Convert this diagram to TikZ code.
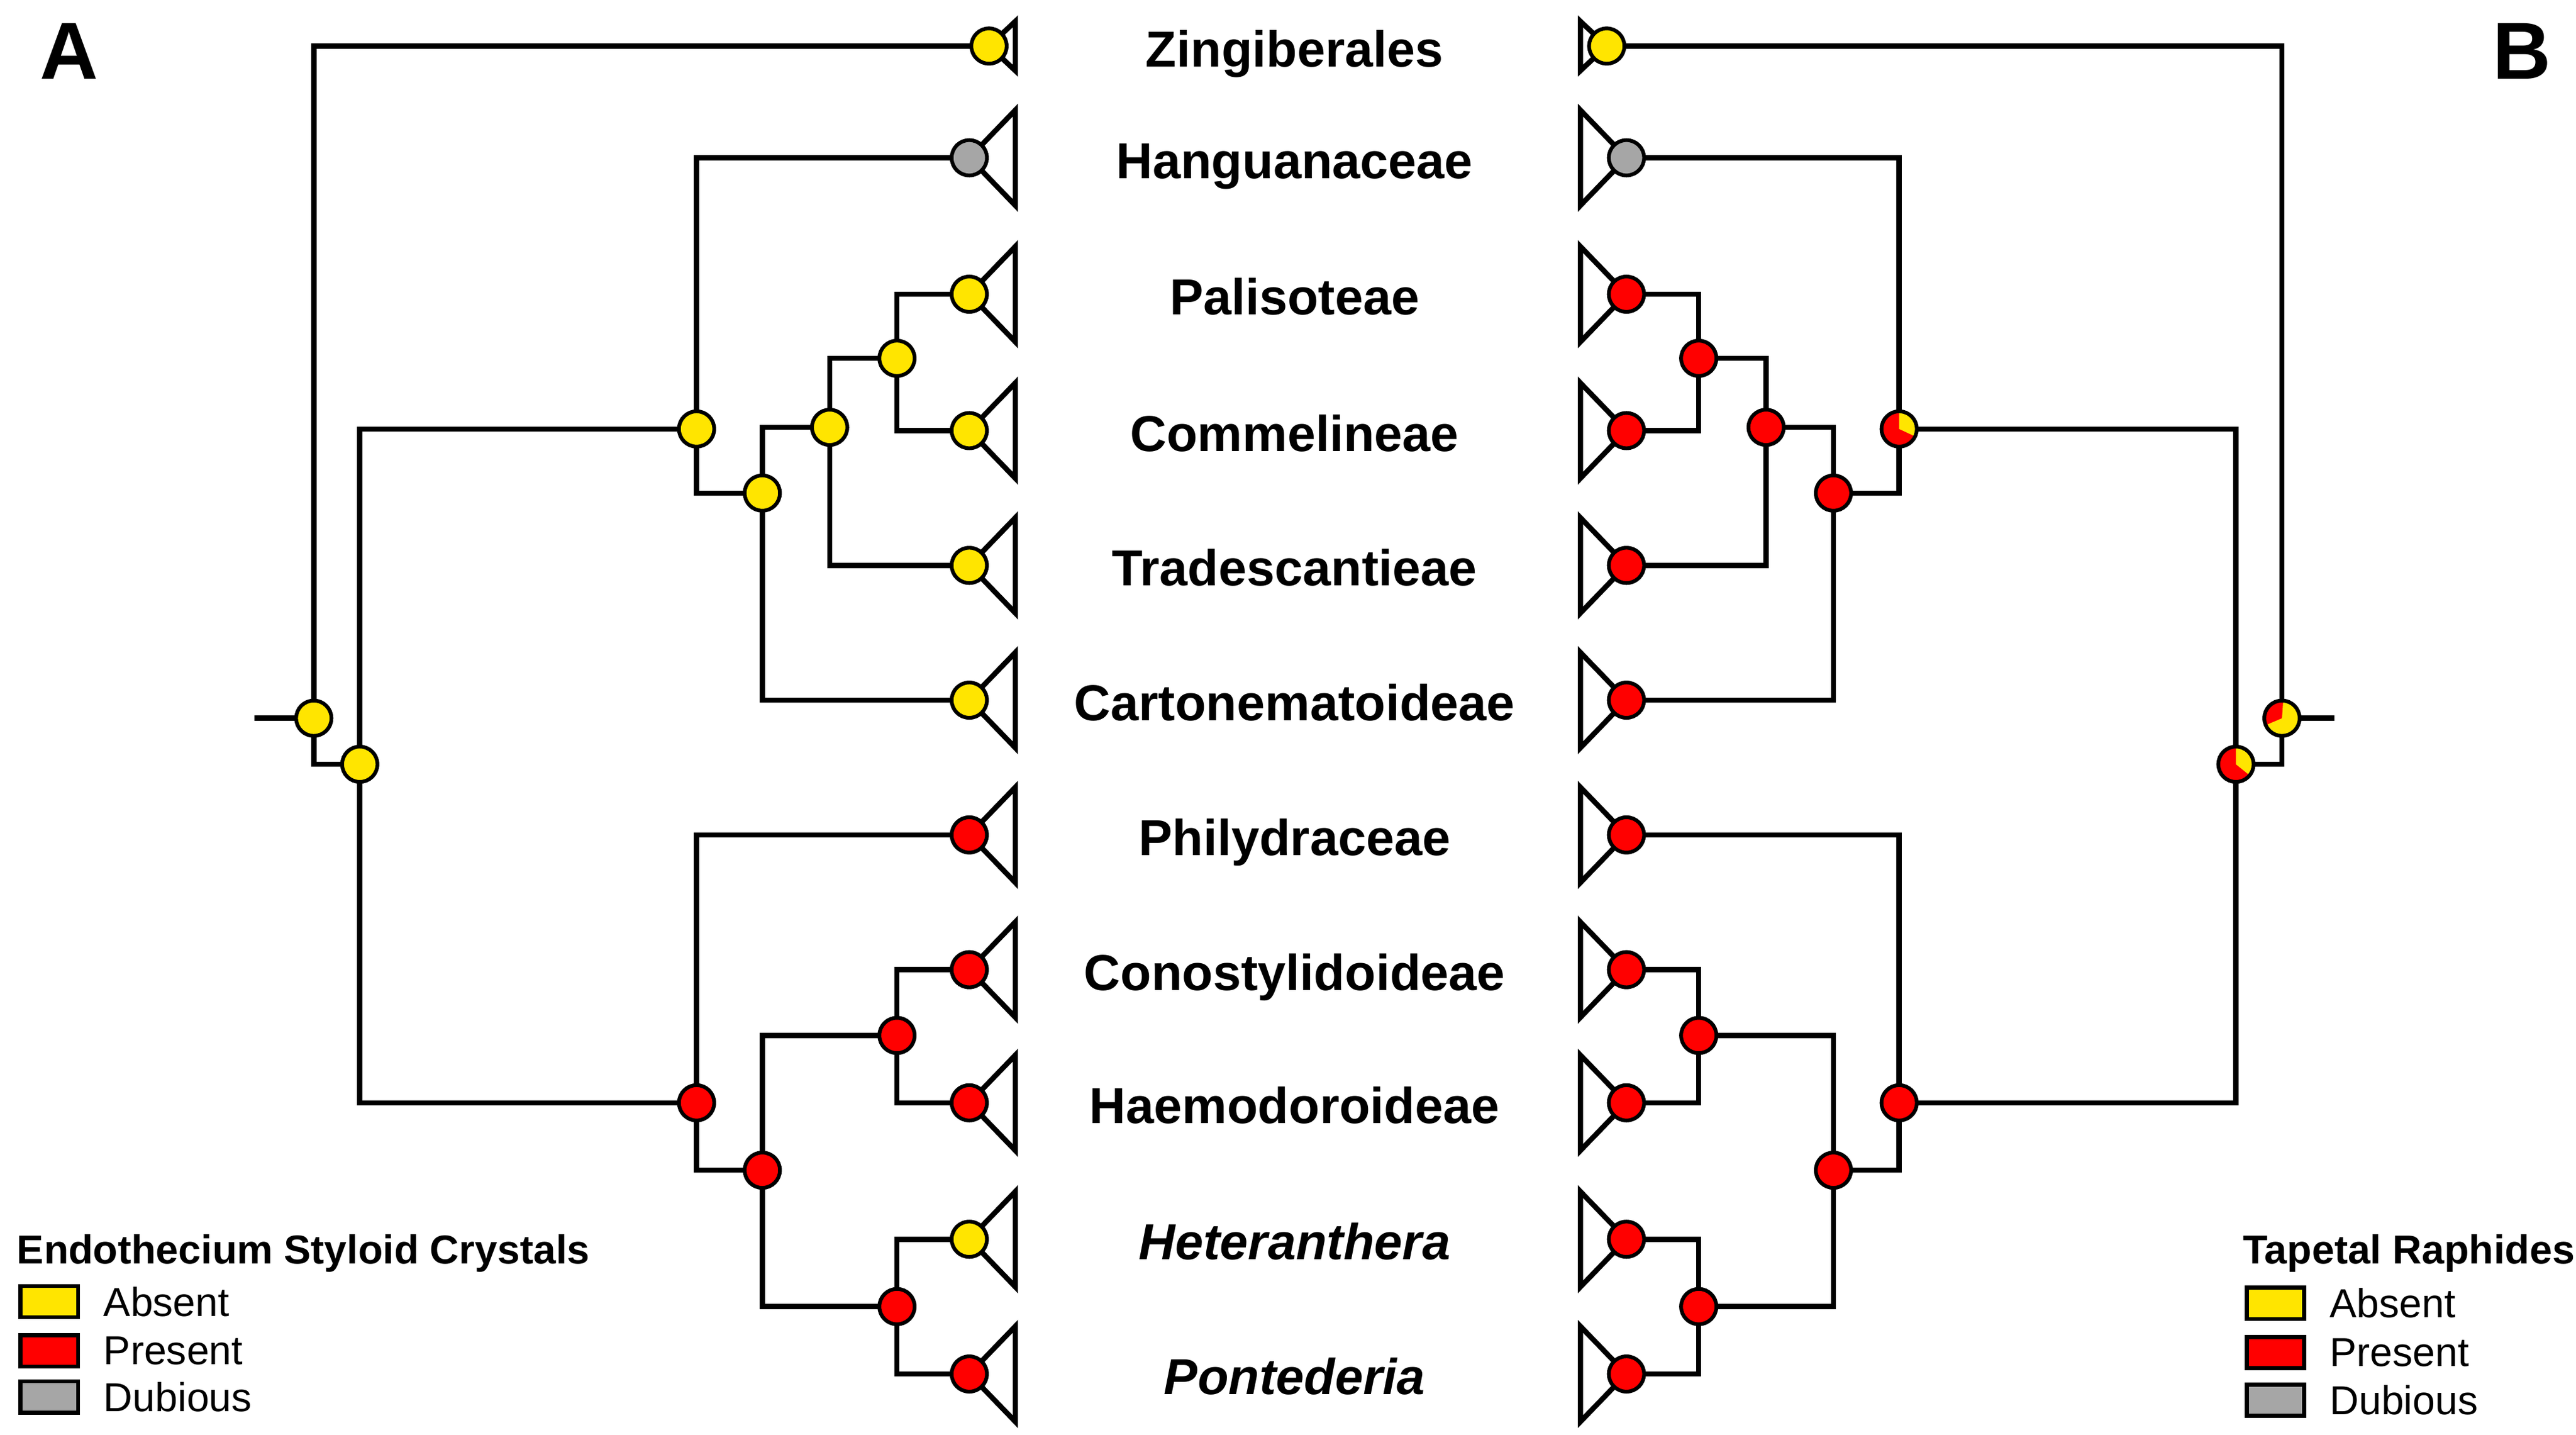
\documentclass[tikz,border=0pt]{standalone}
\usepackage{fontspec}
\setmainfont{Liberation Sans}
\usepackage{tikz}
\usetikzlibrary{positioning}

\definecolor{absent}{RGB}{255,229,0}
\definecolor{present}{RGB}{255,0,0}
\definecolor{dubious}{RGB}{166,166,166}

\newcommand{\taxonfont}{\fontsize{17.5}{21}\selectfont\bfseries}
\newcommand{\legfont}{\fontsize{14}{17}\selectfont}

\tikzset{
  branch/.style={line width=1.8pt},
  cone/.style={line width=1.8pt, fill=white, line join=miter},
  state/.style={circle, draw, line width=1.3pt, inner sep=0pt, minimum size=0.43cm},
  absentdot/.style={state, fill=absent},
  presentdot/.style={state, fill=present},
  dubiousdot/.style={state, fill=dubious},
  wedge/.style n args={3}{path picture={
      \fill[#1] (path picture bounding box.center) -- ++(#2:1cm)
        arc[start angle=#2, end angle=#3, radius=1cm] -- cycle;}},
  legbox/.style={draw, line width=1.4pt, minimum width=0.7cm, minimum height=0.38cm, inner sep=0pt},
  legtext/.style={font=\legfont, inner sep=0pt, right=0.28cm of #1}
}

\begin{document}
\begin{tikzpicture}[x=0.02cm, y=-0.02cm]
        \useasboundingbox (0,0) rectangle (1568,873);

        % tips of both trees
        \coordinate (lZin) at (602,28);
        \coordinate (rZin) at (978,28);
        \foreach \name/\row in {Han/96,Pal/179,Com/262,Tra/344,Car/426,Phi/508,Con/590,Hae/671,Het/754,Pon/836}
          {\coordinate (l\name) at (590,\row);
           \coordinate (r\name) at (990,\row);}

        % inner nodes, tree A
        \coordinate (lA1) at (546,218);
        \coordinate (lA2) at (505,260);
        \coordinate (lA3) at (464,300);
        \coordinate (lA4) at (424,261);
        \coordinate (lB1) at (546,630);
        \coordinate (lB2) at (546,795);
        \coordinate (lB3) at (464,712);
        \coordinate (lB4) at (424,671);
        \coordinate (lR2) at (219,465);
        \coordinate (lR1) at (191,437);
        \coordinate (lS) at (155,437);

        % inner nodes, tree B
        \coordinate (rA1) at (1034,218);
        \coordinate (rA2) at (1075,260);
        \coordinate (rA3) at (1116,300);
        \coordinate (rA4) at (1156,261);
        \coordinate (rB1) at (1034,630);
        \coordinate (rB2) at (1034,795);
        \coordinate (rB3) at (1116,712);
        \coordinate (rB4) at (1156,671);
        \coordinate (rR2) at (1361,465);
        \coordinate (rR1) at (1389,437);
        \coordinate (rS) at (1421,437);

        % branches
        \foreach \s in {l,r}
          {\draw[branch] (\s Pal) -| (\s A1) |- (\s Com);
           \draw[branch] (\s A1) -| (\s A2) |- (\s Tra);
           \draw[branch] (\s A2) -| (\s A3) |- (\s Car);
           \draw[branch] (\s Han) -| (\s A4) |- (\s A3);
           \draw[branch] (\s Con) -| (\s B1) |- (\s Hae);
           \draw[branch] (\s Het) -| (\s B2) |- (\s Pon);
           \draw[branch] (\s B1) -| (\s B3) |- (\s B2);
           \draw[branch] (\s Phi) -| (\s B4) |- (\s B3);
           \draw[branch] (\s A4) -| (\s R2) |- (\s B4);
           \draw[branch] (\s Zin) -| (\s R1) |- (\s R2);
           \draw[branch] (\s S) -- (\s R1);}

        % clade triangles
        \draw[cone] (lZin) -- ++(16,-15) -- ++(0,30) -- cycle;
        \draw[cone] (rZin) -- ++(-16,-15) -- ++(0,30) -- cycle;
        \foreach \name in {Han,Pal,Com,Tra,Car,Phi,Con,Hae,Het,Pon}
          {\draw[cone] (l\name) -- ++(28,-29) -- ++(0,58) -- cycle;
           \draw[cone] (r\name) -- ++(-28,-29) -- ++(0,58) -- cycle;}

        % states, tree A
        \node[absentdot] (sZinA) at (lZin) {};
        \node[dubiousdot] (sHanA) at (lHan) {};
        \foreach \name in {Pal,Com,Tra,Car,Het,A1,A2,A3,A4,R1,R2}
          \node[absentdot] (s\name A) at (l\name) {};
        \foreach \name in {Phi,Con,Hae,Pon,B1,B2,B3,B4}
          \node[presentdot] (s\name A) at (l\name) {};

        % states, tree B
        \node[absentdot] (sZinB) at (rZin) {};
        \node[dubiousdot] (sHanB) at (rHan) {};
        \foreach \name in {Pal,Com,Tra,Car,Phi,Con,Hae,Het,Pon,A1,A2,A3,B1,B2,B3,B4}
          \node[presentdot] (s\name B) at (r\name) {};
        \node[presentdot, wedge={absent}{-25}{90}] (sA4B) at (rA4) {};
        \node[presentdot, wedge={absent}{-39}{90}] (sR2B) at (rR2) {};
        \node[absentdot, wedge={present}{86}{203}] (sR1B) at (rR1) {};

        % taxon names
        \foreach \name/\row/\taxon in {Zin/28/Zingiberales, Han/96/Hanguanaceae, Pal/179/Palisoteae,
            Com/262/Commelineae, Tra/344/Tradescantieae, Car/426/Cartonematoideae, Phi/508/Philydraceae,
            Con/590/Conostylidoideae, Hae/671/Haemodoroideae, Het/754/\textit{Heteranthera},
            Pon/836/\textit{Pontederia}}
          \node[font=\taxonfont, anchor=base, inner sep=0pt] (t\name) at (788,\row+12.5) {\taxon};

        % panel letters
        \node[font=\fontsize{28}{32}\selectfont\bfseries, anchor=base west, inner sep=0pt] (panelA) at (24,48) {A};
        \node[font=\fontsize{28}{32}\selectfont\bfseries, anchor=base west, inner sep=0pt] (panelB) at (1517,48) {B};

        % legend A
        \node[font=\legfont\bfseries, anchor=base west, inner sep=0pt] (legA) at (10,769) {Endothecium Styloid Crystals};
        \node[legbox, fill=absent] (kAbsA) at (30,792) {};
        \node[legbox, fill=present] (kPreA) at (30,822) {};
        \node[legbox, fill=dubious] (kDubA) at (30,850) {};
        \node[legtext=kAbsA] (xAbsA) {Absent};
        \node[legtext=kPreA] (xPreA) {Present};
        \node[legtext=kDubA] (xDubA) {Dubious};

        % legend B
        \node[font=\legfont\bfseries, anchor=base west, inner sep=0pt] (legB) at (1365,769) {Tapetal Raphides};
        \node[legbox, fill=absent] (kAbsB) at (1385,793) {};
        \node[legbox, fill=present] (kPreB) at (1385,823) {};
        \node[legbox, fill=dubious] (kDubB) at (1385,852) {};
        \node[legtext=kAbsB] (xAbsB) {Absent};
        \node[legtext=kPreB] (xPreB) {Present};
        \node[legtext=kDubB] (xDubB) {Dubious};
\end{tikzpicture}
\end{document}
